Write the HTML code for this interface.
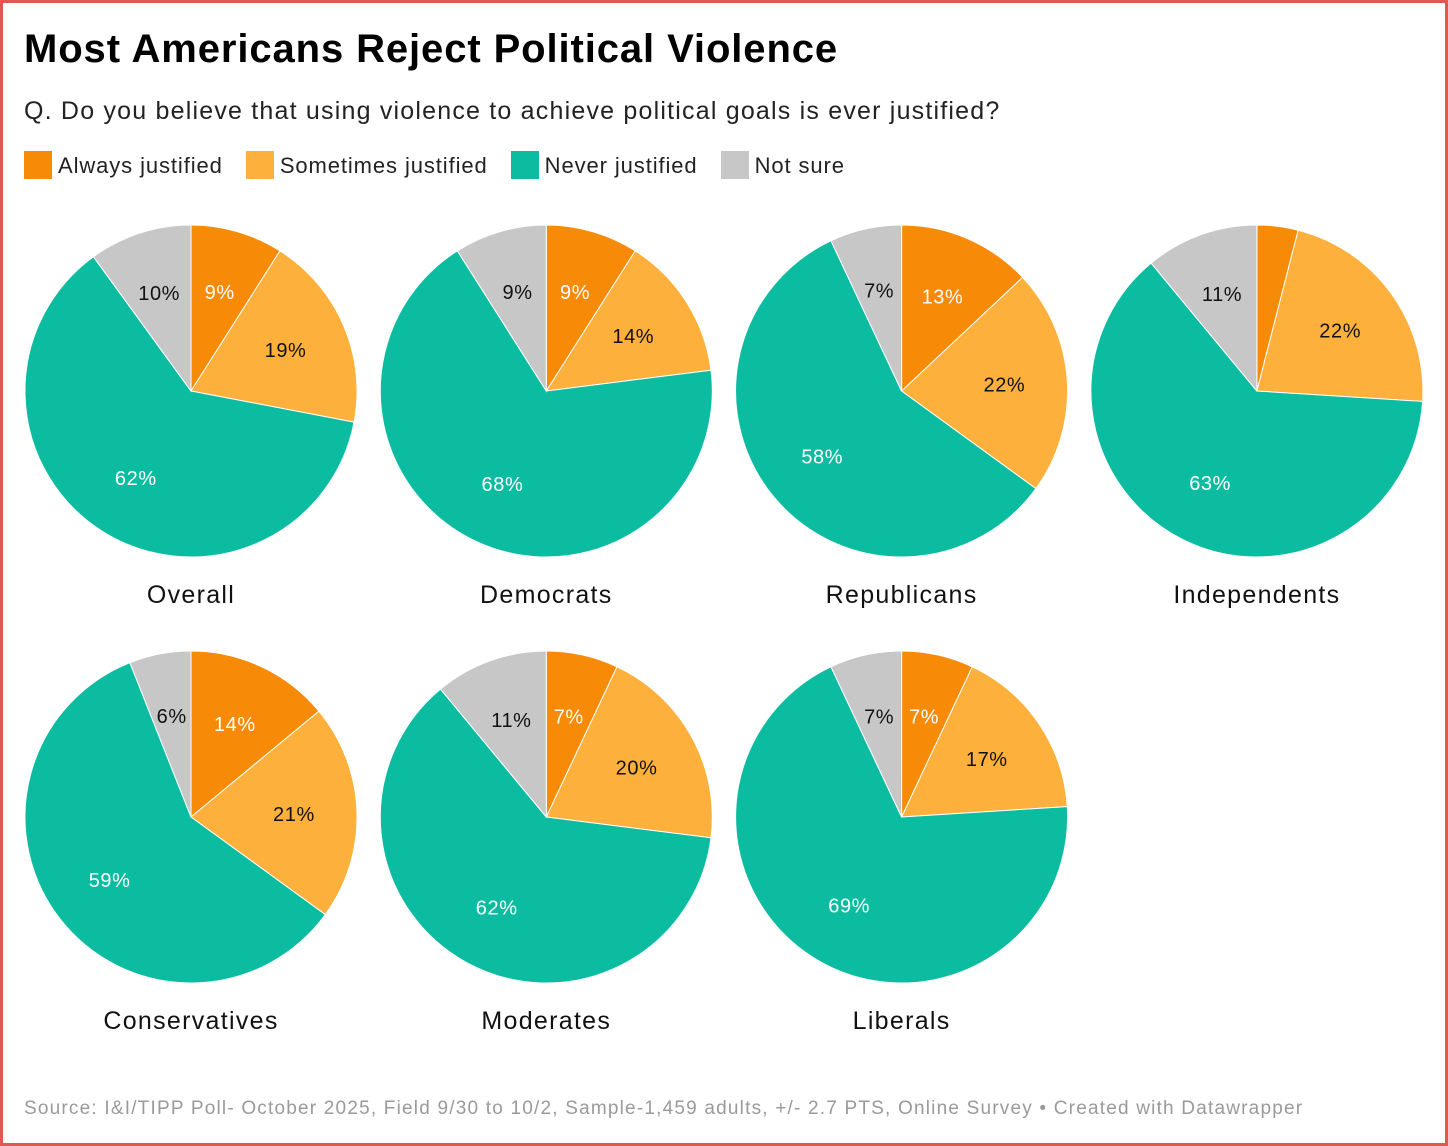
<!DOCTYPE html>
<html><head><meta charset="utf-8">
<style>
body{margin:0;background:#fff;font-family:"Liberation Sans",Roboto,sans-serif;}
#frame{position:absolute;left:0;top:0;width:1442px;height:1140px;border:3px solid #e0594f;}
.t{position:absolute;white-space:nowrap;}
.sw{display:inline-block;width:28px;height:28px;vertical-align:-6px;margin-right:6px;}
.leg{margin-right:16px;}
</style></head><body>
<div id="frame"></div>
<div class="t" style="left:24px;top:27px;font-size:40px;font-weight:bold;letter-spacing:0.9px;">Most Americans Reject Political Violence</div>
<div class="t" style="left:24px;top:97px;font-size:25px;color:#222;letter-spacing:1.2px;">Q. Do you believe that using violence to achieve political goals is ever justified?</div>
<div class="t" style="left:24px;top:151px;font-size:22px;color:#222;letter-spacing:0.9px;">
<span class="leg"><span class="sw" style="background:#f78a06"></span>Always justified</span>
<span class="leg"><span class="sw" style="background:#fdb03b"></span>Sometimes justified</span>
<span class="leg"><span class="sw" style="background:#0bbca0"></span>Never justified</span>
<span class="leg"><span class="sw" style="background:#c7c7c7"></span>Not sure</span>
</div>
<svg id="pies" width="1448" height="1146" style="position:absolute;left:0;top:0"></svg>
<div class="t" style="left:24px;top:1098px;font-size:19px;color:#9a9a9a;letter-spacing:1.2px;">Source: I&amp;I/TIPP Poll- October 2025, Field 9/30 to 10/2, Sample-1,459 adults, +/- 2.7 PTS, Online Survey • Created with Datawrapper</div>
<script>
const groups=["Overall","Democrats","Republicans","Independents","Conservatives","Moderates","Liberals"];
const always=[9,9,13,4,14,7,7];
const sometimes=[19,14,22,22,21,20,17];
const never=[62,68,58,63,59,62,69];
const notSure=[10,9,7,11,6,11,7];
const colors=["#f78a06","#fdb03b","#0bbca0","#c7c7c7"];
const txtCol=["#fff","#111","#fff","#111"];
const svg=document.getElementById('pies');
const NS="http://www.w3.org/2000/svg";
const R=166;
function pt(cx,cy,r,frac){const a=frac*2*Math.PI;return [cx+r*Math.sin(a),cy-r*Math.cos(a)];}
groups.forEach((g,i)=>{
  const cx=191+(i%4)*355.3, cy=i<4?391:817;
  const vals=[always[i],sometimes[i],never[i],notSure[i]];
  const tot=vals.reduce((a,b)=>a+b,0);
  let acc=0;
  vals.forEach((v,k)=>{
    const f0=acc/tot,f1=(acc+v)/tot;acc+=v;
    const p0=pt(cx,cy,R,f0),p1=pt(cx,cy,R,f1);
    const path=document.createElementNS(NS,'path');
    path.setAttribute('d',`M${cx},${cy}L${p0[0]},${p0[1]}A${R},${R} 0 ${f1-f0>0.5?1:0} 1 ${p1[0]},${p1[1]}Z`);
    path.setAttribute('fill',colors[k]);path.setAttribute('stroke','#fff');path.setAttribute('stroke-width','1');
    
    
    svg.appendChild(path);
    if(v>=5){
      const lp=pt(cx,cy,103,(f0+f1)/2);
      const t=document.createElementNS(NS,'text');
      t.setAttribute('x',lp[0]);t.setAttribute('y',lp[1]+7);
      t.setAttribute('text-anchor','middle');t.setAttribute('font-size','20');
      t.setAttribute('letter-spacing','0.6');
      t.setAttribute('fill',txtCol[k]);t.setAttribute('font-family','Liberation Sans, sans-serif');
      t.textContent=v+'%';
      
      
      svg.appendChild(t);
    }
  });
  const lab=document.createElementNS(NS,'text');
  lab.setAttribute('x',cx);lab.setAttribute('y',cy+212);
  lab.setAttribute('text-anchor','middle');lab.setAttribute('font-size','25');
  lab.setAttribute('letter-spacing','1.3');
  lab.setAttribute('fill','#111');lab.setAttribute('font-family','Liberation Sans, sans-serif');
  lab.textContent=g;
  
  
  svg.appendChild(lab);
});
</script>
</body></html>
